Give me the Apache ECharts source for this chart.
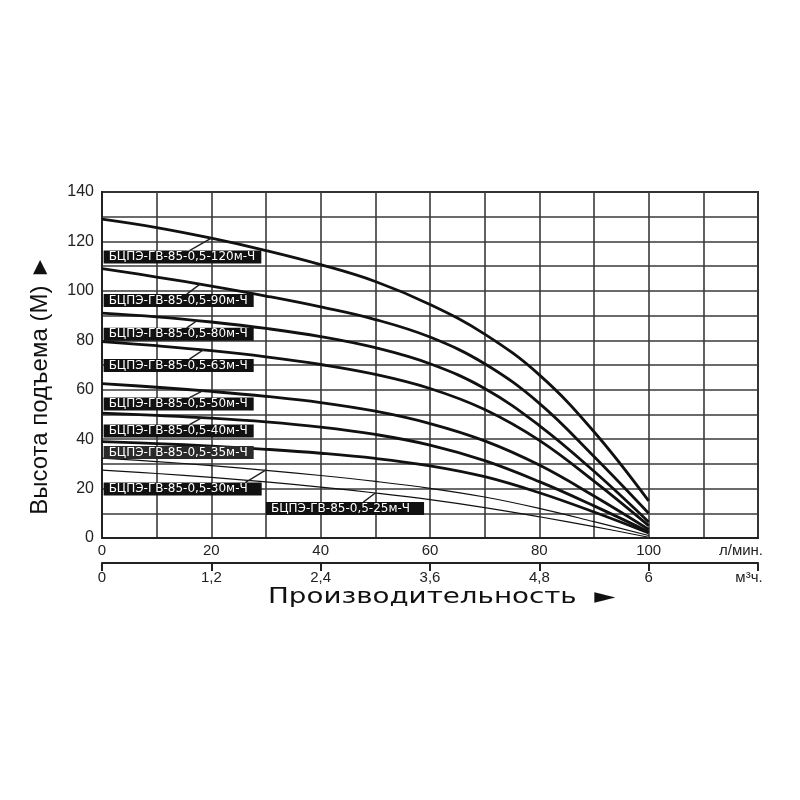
<!DOCTYPE html>
<html>
<head>
<meta charset="utf-8">
<script src="https://cdn.jsdelivr.net/npm/echarts@6/dist/echarts.min.js"></script>
<style>
  html, body { margin: 0; background: #fff; }
  #chart { width: 800px; height: 800px; }
</style>
</head>
<body>
<div id="chart"></div>
<script>
// flow, l/min
const flow = [0, 10, 20, 30, 40, 50, 60, 70, 80, 90, 100];

const pumpNames = [
  'БЦПЭ-ГВ-85-0,5-120м-Ч',
  'БЦПЭ-ГВ-85-0,5-90м-Ч',
  'БЦПЭ-ГВ-85-0,5-80м-Ч',
  'БЦПЭ-ГВ-85-0,5-63м-Ч',
  'БЦПЭ-ГВ-85-0,5-50м-Ч',
  'БЦПЭ-ГВ-85-0,5-40м-Ч',
  'БЦПЭ-ГВ-85-0,5-35м-Ч',
  'БЦПЭ-ГВ-85-0,5-30м-Ч',
  'БЦПЭ-ГВ-85-0,5-25м-Ч'
];

// head, m
const h120 = [129, 125.6, 121.3, 116.3, 110.6, 103.8, 94.5, 82.5, 66, 43, 15];
const h90 = [109, 105.6, 101.9, 97.9, 93.5, 88.4, 81.3, 70.5, 54.5, 33, 10];
const h80 = [91, 89.5, 87.4, 84.8, 81.5, 77, 70.5, 60.5, 45.5, 27, 6.5];
const h63 = [79.5, 77.8, 75.8, 73.3, 70.2, 66.2, 60.5, 52, 39.5, 23, 5];
const h50 = [62.5, 61, 59.3, 57.3, 54.8, 51.3, 46.3, 39.3, 29.5, 17, 3.5];
const h40 = [50.5, 49.6, 48.5, 47, 44.9, 41.9, 37.6, 31.3, 22.8, 13, 2.5];
const h35 = [39, 38.2, 37.2, 35.9, 34.3, 32.2, 29.2, 24.8, 18.3, 10.5, 2];
const h30 = [32.3, 30.9, 29.3, 27.4, 25.3, 22.9, 20.1, 16.6, 12, 6.6, 1];
const h25 = [27.5, 26.1, 24.5, 22.7, 20.6, 18.2, 15.5, 12.3, 8.6, 4.6, 0.3];
const heads = [h120, h90, h80, h63, h50, h40, h35, h30, h25];
const thinLine = [false, false, false, false, false, false, false, true, true];

// label boxes: [flow, head] of the box's left middle
const labelAt = [
  [0.3, 113.7], [0.3, 96.1], [0.3, 82.4], [0.3, 69.8], [0.3, 54.2],
  [0.3, 43.3], [0.3, 34.6], [0.3, 19.8], [30, 11.9]
];
// leader lines from box to curve
const leaderFrom = [
  [16, 116.3], [15.5, 98.7], [15.5, 85], [16, 72.4], [16, 56.8],
  [16, 45.9], null, [26.2, 22.4], [47.8, 14.5]
];
const leaderTo = [
  [20, 121.3], [18, 102.8], [17.3, 87.8], [18.6, 76.2], [18.5, 59.6],
  [18.3, 48.7], null, [30, 27.6], [50, 18.2]
];

const flowTicks = ['0', '20', '40', '60', '80', '100', 'л/мин.'];
const cubicTicks = ['0', '1,2', '2,4', '3,6', '4,8', '6', 'м³ч.'];

const font = '"Liberation Sans", Arial, sans-serif';

const series = heads.map((h, i) => {
  const s = {
    name: pumpNames[i],
    type: 'line',
    xAxisIndex: 0,
    data: flow.map((q, j) => [q, h[j]]),
    smooth: 0.4,
    symbol: 'none',
    silent: true,
    lineStyle: { color: '#111', width: thinLine[i] ? 1.2 : 2.8 },
    z: 3,
    markPoint: {
      silent: true,
      symbol: 'rect',
      symbolSize: 0,
      data: [{ coord: labelAt[i] }],
      label: {
        show: true,
        position: 'right',
        distance: 0,
        formatter: pumpNames[i],
        color: '#fff',
        fontFamily: '"DejaVu Sans", sans-serif',
        fontSize: 12,
        backgroundColor: i === 6 ? '#2a2a2a' : '#111',
        // the two lower boxes are drawn a bit longer than their text
        padding: [0, thinLine[i] ? 14 : 6, 0, 5],
        lineHeight: 13
      }
    }
  };
  if (leaderFrom[i]) {
    s.markLine = {
      silent: true,
      symbol: 'none',
      label: { show: false },
      lineStyle: { color: '#222', width: 1.4, type: 'solid' },
      data: [[{ coord: leaderFrom[i] }, { coord: leaderTo[i] }]]
    };
  }
  return s;
});

const chart = echarts.init(document.getElementById('chart'));
chart.setOption({
  animation: false,
  backgroundColor: '#fff',
  grid: {
    left: 102, right: 42, top: 192, bottom: 262,
    show: true, borderColor: '#222', borderWidth: 2
  },
  xAxis: [
    {
      type: 'value', min: 0, max: 120, interval: 10,
      axisLine: { show: true, lineStyle: { color: '#222', width: 2 } },
      axisTick: { show: false },
      axisLabel: {
        margin: 5, color: '#222', fontSize: 15, fontFamily: font,
        formatter: v => {
          if (v % 20 !== 0) return '';
          const t = flowTicks[v / 20];
          return v === 120 ? '{u|' + t + '}' : t;
        },
        rich: { u: { fontSize: 15, fontFamily: font, color: '#222', padding: [0, 34, 0, 0] } }
      },
      splitLine: { show: true, lineStyle: { color: '#3a3a3a', width: 1.6 } }
    },
    {
      type: 'value', min: 0, max: 7.2, interval: 1.2,
      position: 'bottom', offset: 25,
      axisLine: { show: true, lineStyle: { color: '#222', width: 2 } },
      axisTick: { show: true, length: 8, lineStyle: { color: '#222', width: 2 } },
      axisLabel: {
        margin: 7, color: '#222', fontSize: 15, fontFamily: font,
        formatter: v => {
          const k = Math.round(v / 1.2);
          return k === 6 ? '{u|' + cubicTicks[k] + '}' : cubicTicks[k];
        },
        rich: { u: { fontSize: 15, fontFamily: font, color: '#222', padding: [0, 18, 0, 0] } }
      },
      splitLine: { show: false }
    }
  ],
  yAxis: {
    type: 'value', min: 0, max: 140, interval: 10,
    axisLine: { show: true, lineStyle: { color: '#222', width: 2 } },
    axisTick: { show: false },
    axisLabel: {
      margin: 8, color: '#222', fontSize: 16, fontFamily: font,
      formatter: v => (v % 20 === 0 ? String(v) : '')
    },
    splitLine: { show: true, lineStyle: { color: '#3a3a3a', width: 1.6 } },
    name: 'Высота подъема (М) ►',
    nameLocation: 'middle',
    nameRotate: 90,
    nameGap: 50,
    nameTextStyle: { fontSize: 24, fontFamily: font, color: '#111', padding: [0, 40, 0, 0] }
  },
  graphic: [{
    type: 'text',
    x: 268,
    y: 598,
    scaleX: 1.32,
    silent: true,
    style: {
      text: 'Производительность  ►',
      fontSize: 21,
      fontFamily: '"DejaVu Sans", sans-serif',
      fill: '#111',
      verticalAlign: 'middle'
    }
  }],
  series: series
});
</script>
</body>
</html>
